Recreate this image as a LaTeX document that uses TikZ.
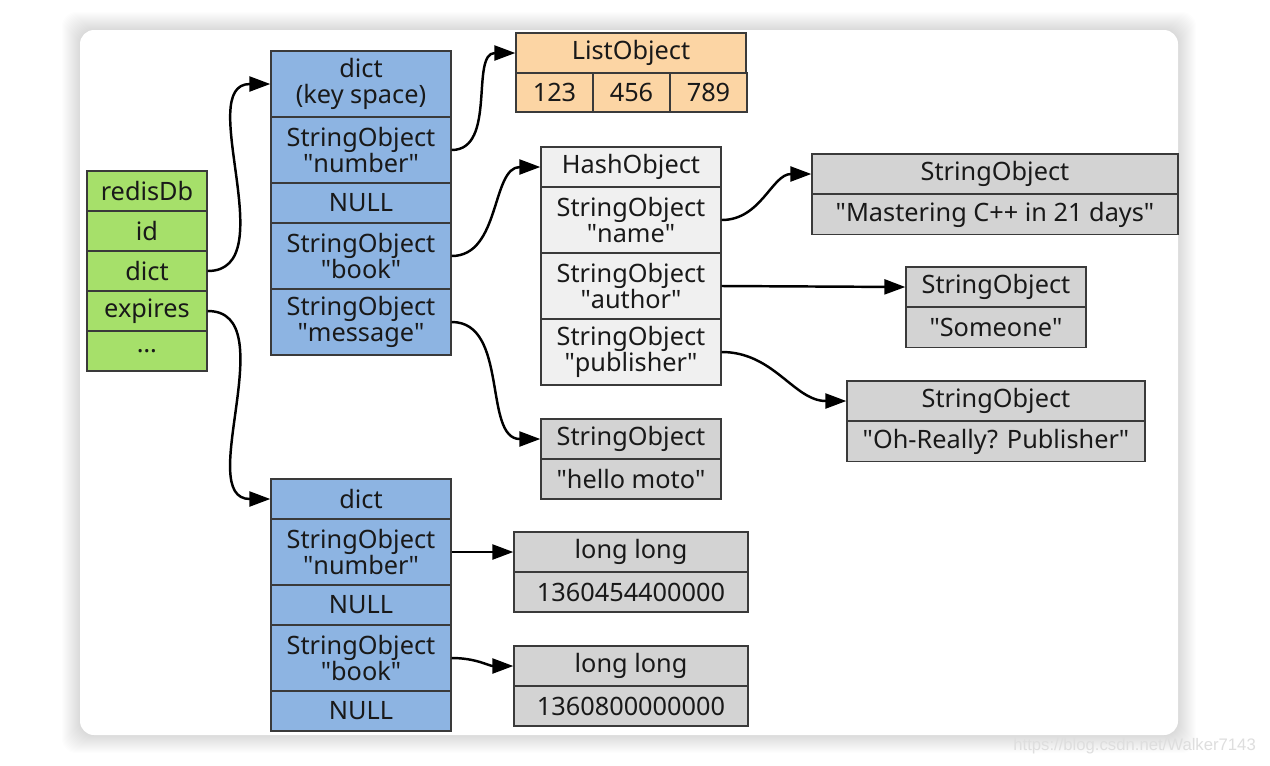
\documentclass[tikz,border=0pt]{standalone}
\usepackage{fontspec}
\setmainfont{Noto Sans}
\newfontfamily\markfont{Liberation Sans}
\usetikzlibrary{arrows.meta}

\definecolor{dbgreen}{HTML}{A6E06A}
\definecolor{dictblue}{HTML}{8DB4E2}
\definecolor{listtan}{HTML}{FCD5A4}
\definecolor{objgray}{HTML}{D3D3D3}
\definecolor{hashwhite}{HTML}{F0F0F0}
\definecolor{boxline}{HTML}{3A3A3A}
\newcommand{\cellfont}{\fontsize{14.4}{14.7}\selectfont}
\newcommand{\qt}[1]{\textquotedbl#1\textquotedbl}

\begin{document}
\begin{tikzpicture}[x=0.02cm, y=-0.02cm, >={Triangle[length=0.42cm, width=0.3cm]}]
  \tikzset{
    cell/.style={draw=boxline, line width=0.8pt, inner sep=0pt, align=center, font=\cellfont, text=black!90},
    onerow/.style={cell, minimum height=0.8cm},
    tworow/.style={cell, minimum height=1.32cm},
    link/.style={->, line width=1.4pt, black}
  };
  \useasboundingbox (0,0) rectangle (1270,765);
  \fill[white] (0,0) rectangle (1270,765);
  % card and its shadow
  \foreach \i in {1,...,18}{
    \fill[black, opacity=0.008, rounded corners=8pt] (80-\i,30-\i) rectangle (1178+\i,735+\i);
  }
  \fill[white, rounded corners=8pt] (80,30) rectangle (1178,735);
  % redisDb
  \node[onerow, fill=dbgreen, minimum width=2.4cm] (db1) at (147,191) {redisDb};
  \node[onerow, fill=dbgreen, minimum width=2.4cm] (db2) at (147,231) {id};
  \node[onerow, fill=dbgreen, minimum width=2.4cm] (db3) at (147,271) {dict};
  \node[onerow, fill=dbgreen, minimum width=2.4cm] (db4) at (147,311) {expires};
  \node[onerow, fill=dbgreen, minimum width=2.4cm] (db5) at (147,351) {\ldots};
  % key space
  \node[tworow, fill=dictblue, minimum width=3.6cm] (ks1) at (361,84) {dict\\(key space)};
  \node[tworow, fill=dictblue, minimum width=3.6cm] (ks2) at (361,150) {StringObject\\\qt{number}};
  \node[onerow, fill=dictblue, minimum width=3.6cm] (ks3) at (361,203) {NULL};
  \node[tworow, fill=dictblue, minimum width=3.6cm] (ks4) at (361,256) {StringObject\\\qt{book}};
  \node[tworow, fill=dictblue, minimum width=3.6cm] (ks5) at (361,322) {StringObject\\\qt{message}};
  % expires
  \node[onerow, fill=dictblue, minimum width=3.6cm] (ex1) at (361,499) {dict};
  \node[tworow, fill=dictblue, minimum width=3.6cm] (ex2) at (361,552) {StringObject\\\qt{number}};
  \node[onerow, fill=dictblue, minimum width=3.6cm] (ex3) at (361,605) {NULL};
  \node[tworow, fill=dictblue, minimum width=3.6cm] (ex4) at (361,658) {StringObject\\\qt{book}};
  \node[onerow, fill=dictblue, minimum width=3.6cm] (ex5) at (361,711) {NULL};
  % list
  \node[onerow, fill=listtan, minimum width=4.6cm] (lst) at (631,53) {ListObject};
  \foreach \v [count=\i from 0] in {123, 456, 789}{
    \node[onerow, fill=listtan, minimum width=1.54cm, minimum height=0.78cm] (lv\i) at (554.5+77*\i,92.5) {\v};
  }
  % hash
  \node[onerow, fill=hashwhite, minimum width=3.6cm] (hs1) at (631,167) {HashObject};
  \node[tworow, fill=hashwhite, minimum width=3.6cm] (hs2) at (631,220) {StringObject\\\qt{name}};
  \node[tworow, fill=hashwhite, minimum width=3.6cm] (hs3) at (631,286) {StringObject\\\qt{author}};
  \node[tworow, fill=hashwhite, minimum width=3.6cm] (hs4) at (631,352) {StringObject\\\qt{publisher}};
  % strings
  \node[onerow, fill=objgray, minimum width=3.6cm] (hm1) at (631,439) {StringObject};
  \node[onerow, fill=objgray, minimum width=3.6cm] (hm2) at (631,479) {\qt{hello moto}};
  \node[onerow, fill=objgray, minimum width=7.32cm] (mc1) at (995,174) {StringObject};
  \node[onerow, fill=objgray, minimum width=7.32cm] (mc2) at (995,214.5) {\qt{Mastering C++ in 21 days}};
  \node[onerow, fill=objgray, minimum width=3.6cm] (so1) at (996,287) {StringObject};
  \node[onerow, fill=objgray, minimum width=3.6cm] (so2) at (996,327.5) {\qt{Someone}};
  \node[onerow, fill=objgray, minimum width=5.96cm] (or1) at (996,401) {StringObject};
  \node[onerow, fill=objgray, minimum width=5.96cm] (or2) at (996,441.5) {\qt{Oh-Really? Publisher}};
  % long long
  \node[onerow, fill=objgray, minimum width=4.68cm] (ll1) at (631,552) {long long};
  \node[onerow, fill=objgray, minimum width=4.68cm] (lv1) at (631,592) {1360454400000};
  \node[onerow, fill=objgray, minimum width=4.68cm] (ll2) at (631,666) {long long};
  \node[onerow, fill=objgray, minimum width=4.68cm] (lv2) at (631,706) {1360800000000};
  % links
  \draw[link] (db3.east) to[out=0, in=180] (ks1.west);
  \draw[link] (db4.east) to[out=0, in=180] (ex1.west);
  \draw[link] (ks2.east) to[out=0, in=180] (lst.west);
  \draw[link] (ks4.east) to[out=0, in=180] (hs1.west);
  \draw[link] (ks5.east) to[out=0, in=180] (hm1.west);
  \draw[link] (hs2.east) to[out=0, in=180] (mc1.west);
  \draw[link] (hs3.east) -- (so1.west);
  \draw[link] (hs4.east) to[out=0, in=180] (or1.west);
  \draw[link] (ex2.east) -- (ll1.west);
  \draw[link] (ex4.east) to[out=0, in=180] (ll2.west);
  \node[anchor=east, text=black!13, font=\markfont\fontsize{9.5}{9.5}\selectfont] (mark) at (1262,746) {https://blog.csdn.net/Walker7143};
\end{tikzpicture}
\end{document}
